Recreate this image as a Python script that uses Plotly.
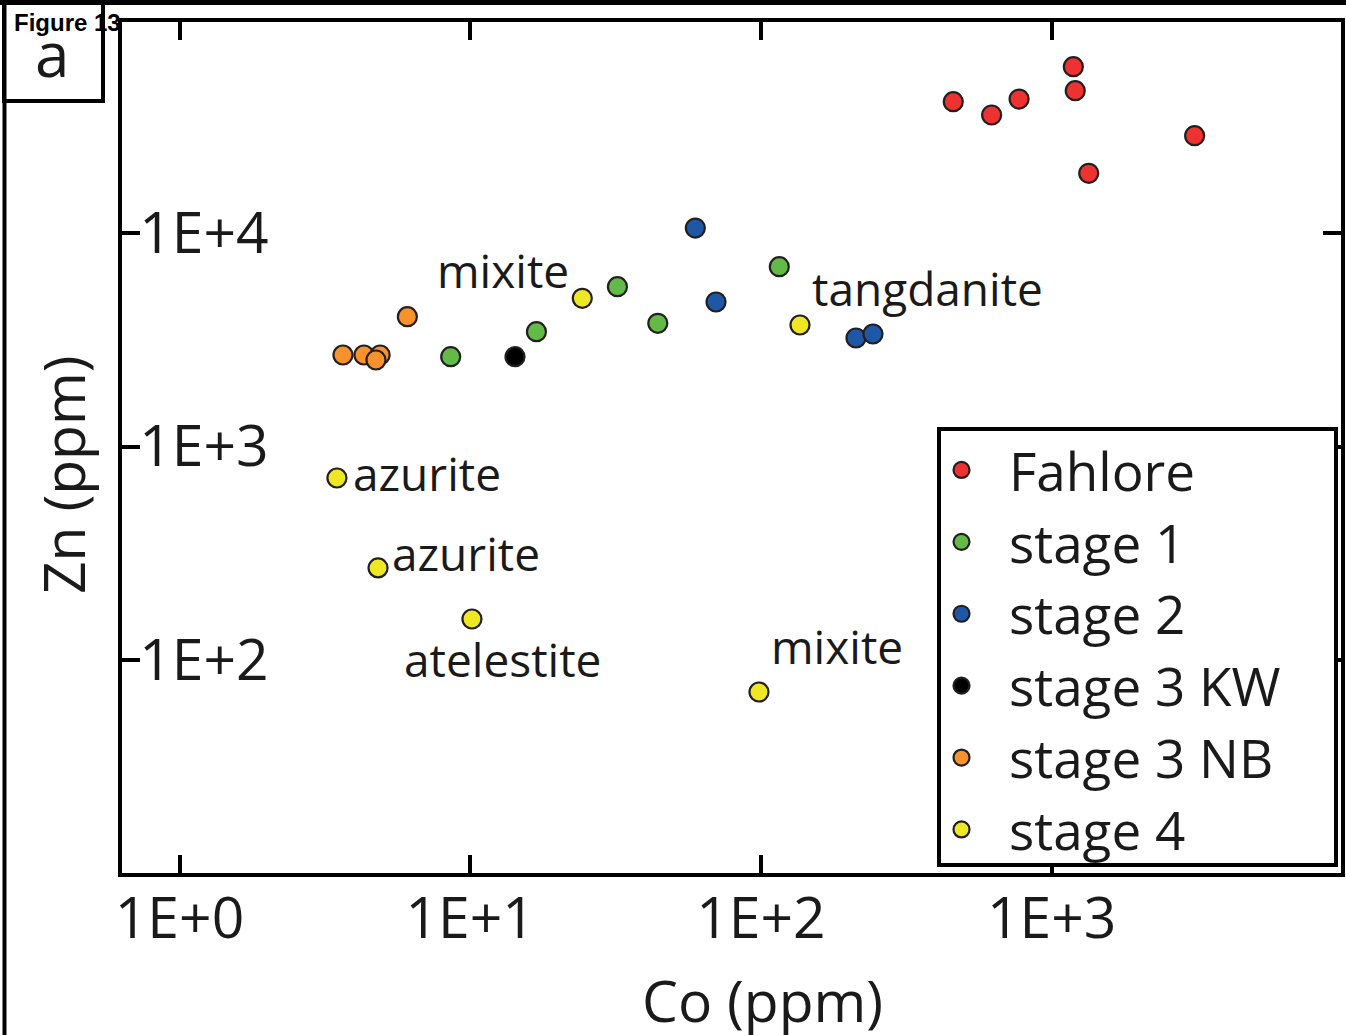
import numpy as np
import plotly.graph_objects as go

# ---------------- data ----------------
fahlore_co = [459, 622, 773, 1188, 1206, 3105, 1342]
fahlore_zn = [41200, 35700, 42400, 60100, 46400, 28560, 19040]

stage1_co = [8.57, 16.9, 32.1, 44.2, 115.7]
stage1_zn = [2634, 3449, 5604, 3776, 6953]

stage2_co = [59.5, 70.1, 212.4, 243]
stage2_zn = [10550, 4752, 3222, 3365]

stage3kw_co = [14.26]
stage3kw_zn = [2634]

stage3nb_co = [3.65, 4.31, 4.90, 4.74, 6.08]
stage3nb_zn = [2683, 2683, 2683, 2542, 4055]

stage4_co = [24.3, 136.3, 3.48, 4.82, 10.14, 98.5]
stage4_zn = [4944, 3707, 712, 270, 155.6, 70.8]
stage4_labels = ["mixite", "tangdanite", "azurite", "azurite", "atelestite", "mixite"]

x_tickvals = [1, 10, 100, 1000]
x_ticktext = ["1E+0", "1E+1", "1E+2", "1E+3"]
y_tickvals = [100, 1000, 10000]
y_ticktext = ["1E+2", "1E+3", "1E+4"]

series = [
    ("Fahlore", fahlore_co, fahlore_zn, "#ee3231"),
    ("stage 1", stage1_co, stage1_zn, "#62bb47"),
    ("stage 2", stage2_co, stage2_zn, "#1e57a6"),
    ("stage 3 KW", stage3kw_co, stage3kw_zn, "#000000"),
    ("stage 3 NB", stage3nb_co, stage3nb_zn, "#f7922d"),
    ("stage 4", stage4_co, stage4_zn, "#ede724"),
]

FONT = "Open Sans"
TXT = "#1a1a1a"

fig = go.Figure()
for name, xs, ys, col in series:
    fig.add_trace(go.Scatter(
        x=xs, y=ys, mode="markers", name=name,
        marker=dict(size=19, color=col, line=dict(color="#231f20", width=2.2)),
        hoverinfo="skip",
    ))

# layout geometry (pixels)
W, H = 1346, 1035
L, R, T, B = 122, 5, 22, 162
PW, PH = W - L - R, H - T - B


def px(xp):
    return (xp - L) / PW


def py(yp):
    return (H - B - yp) / PH


# point labels
offsets = [(-79, 28), (127, 37), (90, 5), (88, 15), (31, -40), (78, 46)]
annotations = []
for lab, xv, yv, (dx, dy) in zip(stage4_labels, stage4_co, stage4_zn, offsets):
    annotations.append(dict(
        x=np.log10(xv), y=np.log10(yv), xref="x", yref="y", text=lab,
        showarrow=False, xshift=dx, yshift=dy, xanchor="center", yanchor="middle",
        font=dict(family=FONT, size=46, color=TXT),
    ))

# axis titles
annotations.append(dict(x=px(762), y=py(1000), xref="paper", yref="paper",
                        xanchor="center", yanchor="middle",
                        text="Co (ppm)", showarrow=False,
                        font=dict(family=FONT, size=57, color=TXT)))
annotations.append(dict(x=px(63), y=py(475), xref="paper", yref="paper",
                        xanchor="center", yanchor="middle",
                        text="Zn (ppm)", showarrow=False, textangle=-90,
                        font=dict(family=FONT, size=57, color=TXT)))
# panel labels
annotations.append(dict(x=px(12), y=py(22), xref="paper", yref="paper",
                        xanchor="left", yanchor="middle",
                        text="<b>Figure 13</b>", showarrow=False,
                        font=dict(family="Liberation Sans", size=24, color="#000")))
annotations.append(dict(x=px(52), y=py(53), xref="paper", yref="paper",
                        xanchor="center", yanchor="middle",
                        text="a", showarrow=False,
                        font=dict(family=FONT, size=62, color=TXT)))

shapes = [
    dict(type="line", xref="paper", yref="paper", x0=px(0), x1=px(W), y0=py(2.5), y1=py(2.5),
         line=dict(color="#000", width=5)),
    dict(type="line", xref="paper", yref="paper", x0=px(4.5), x1=px(4.5), y0=py(0), y1=py(H),
         line=dict(color="#000", width=4)),
    dict(type="rect", xref="paper", yref="paper", x0=px(4), x1=px(103), y0=py(101), y1=py(2),
         line=dict(color="#000", width=4)),
    # legend frame
    dict(type="rect", xref="paper", yref="paper", x0=px(939), x1=px(1336), y0=py(865), y1=py(429),
         line=dict(color="#000", width=4), fillcolor="white", layer="above"),
]

axis_common = dict(
    showline=True, linecolor="#000", linewidth=4, mirror="ticks",
    ticks="inside", ticklen=18, tickwidth=4, tickcolor="#000",
    showgrid=False, zeroline=False, automargin=False,
    tickfont=dict(family=FONT, size=57, color=TXT),
)

fig.update_layout(
    width=W, height=H,
    margin=dict(l=L, r=R, t=T, b=B, pad=0, autoexpand=False),
    paper_bgcolor="white", plot_bgcolor="white",
    xaxis=dict(type="log", range=[(L - 179.5) / 290.7, (W - R - 179.5) / 290.7],
               tickmode="array", tickvals=x_tickvals, ticktext=x_ticktext,
               ticklabelstandoff=-7, **axis_common),
    yaxis=dict(type="log", range=[4 + (233 - (H - B)) / 213.5, 4 + (233 - T) / 213.5],
               tickmode="array", tickvals=y_tickvals, ticktext=y_ticktext,
               ticklabelposition="outside", ticklabelstandoff=-162, **axis_common),
    showlegend=True,
    legend=dict(
        x=px(914), y=py(429), xanchor="left", yanchor="top",
        bgcolor="rgba(0,0,0,0)", borderwidth=0,
        font=dict(family=FONT, size=53, color=TXT),
        itemwidth=85, tracegroupgap=0,
    ),
    annotations=annotations,
    shapes=shapes,
)

fig.write_html(
    "out.html",
    config={"displayModeBar": False},
    post_script="document.body.style.margin='0';document.body.style.overflow='hidden';",
)
